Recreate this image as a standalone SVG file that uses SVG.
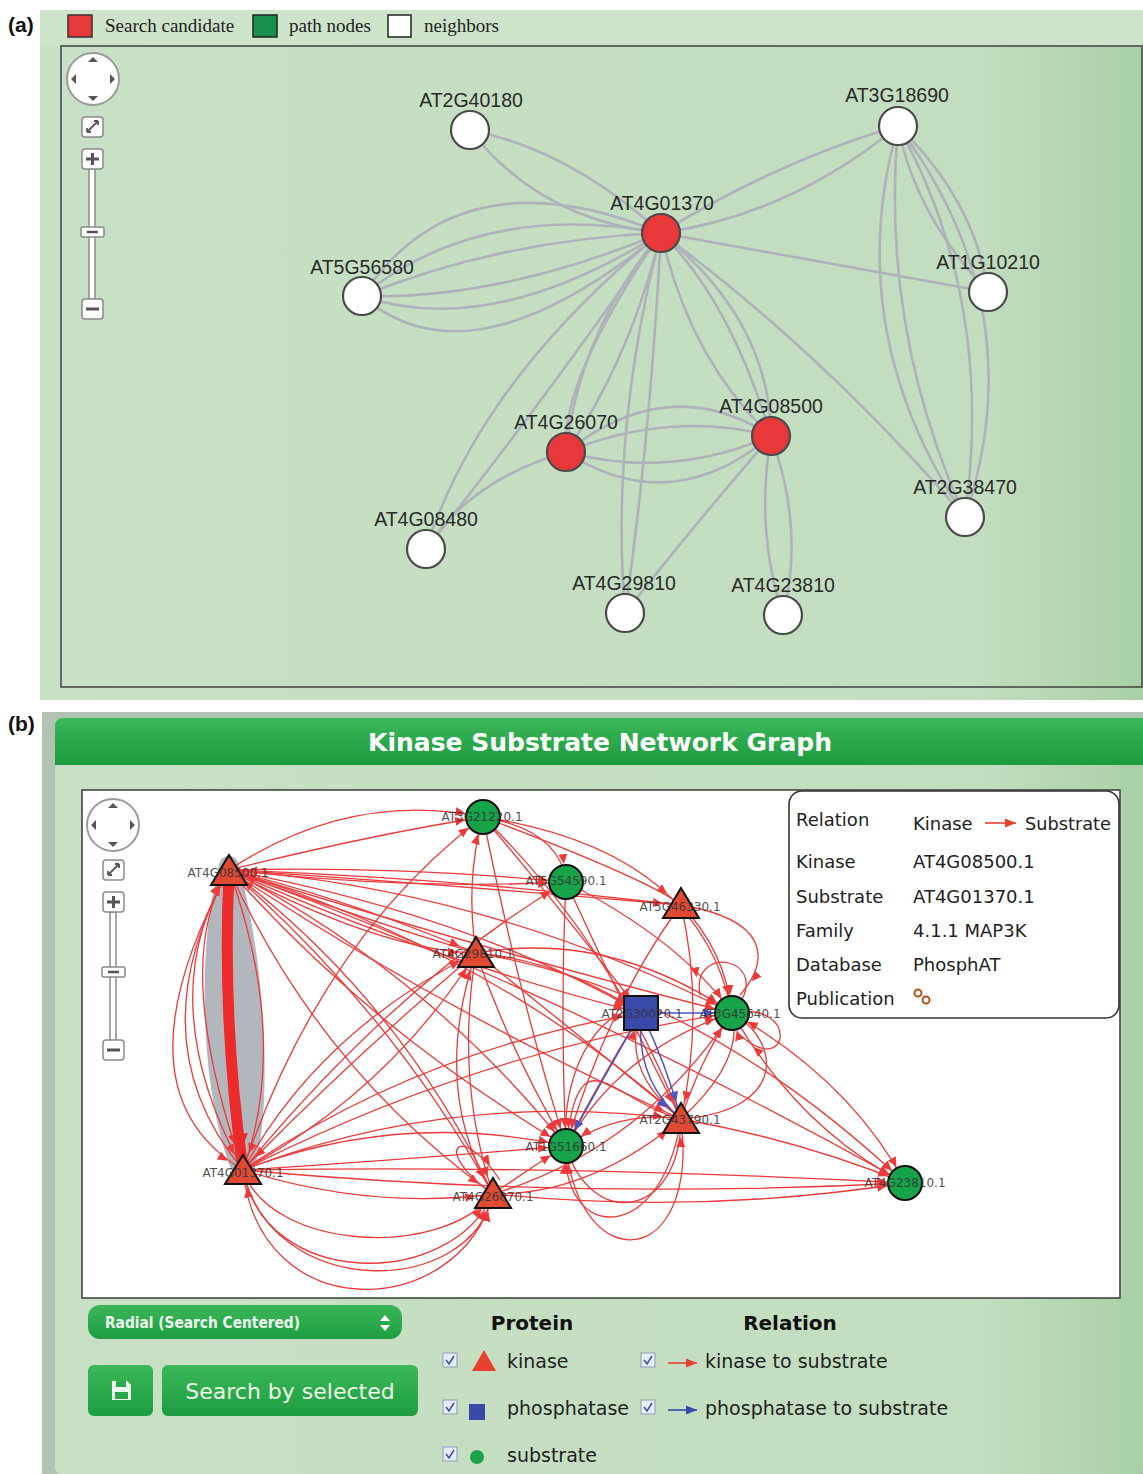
<svg xmlns="http://www.w3.org/2000/svg" width="1143" height="1474" viewBox="0 0 1143 1474">
<style>
.lab{font-family:"Liberation Sans",Arial,sans-serif;font-size:19.5px;fill:#2a2a2a;text-anchor:middle}
.leg{font-family:"Liberation Serif","Times New Roman",serif;font-size:19px;fill:#222}
.ea{fill:none;stroke:#b0b2ba;stroke-width:2.6}
.nw{fill:#fff;stroke:#4a4a4a;stroke-width:2.2}
.nr{fill:#e8383a;stroke:#4a4a4a;stroke-width:2.2}
.er{fill:none;stroke:#ec3a3a;stroke-width:1.3;marker-end:url(#ar)}
.eb{fill:none;stroke:#4a55c0;stroke-width:1.5;marker-end:url(#ab)}
.tri{fill:#e04a33;stroke:#111;stroke-width:2}
.cir{fill:#17a34a;stroke:#111;stroke-width:2}
.bl{font-family:"DejaVu Sans",sans-serif;font-size:12px;fill:#333;text-anchor:middle;opacity:0.85}
.inf{font-family:"DejaVu Sans",sans-serif;font-size:18px;fill:#222}
.bt{font-family:"DejaVu Sans",sans-serif;font-size:19px;fill:#222}
.hd{font-family:"DejaVu Sans",sans-serif;font-size:20px;font-weight:bold;fill:#111;text-anchor:middle}
.btn{fill:#fff;stroke:#8a8a8a;stroke-width:1.5}
.cb{fill:#e6ecf6;stroke:#8d9bb8;stroke-width:1}
.ck{fill:none;stroke:#3a4fa0;stroke-width:1.5}
</style>
<defs>
<linearGradient id="ga" x1="0" y1="0" x2="1" y2="0">
<stop offset="0" stop-color="#c8e0c5"/><stop offset="0.85" stop-color="#c3ddc0"/><stop offset="1" stop-color="#a9d0a6"/>
</linearGradient>
<linearGradient id="gh" x1="0" y1="0" x2="0" y2="1">
<stop offset="0" stop-color="#3cb85a"/><stop offset="1" stop-color="#1c9a3e"/>
</linearGradient>
<linearGradient id="gbt" x1="0" y1="0" x2="0" y2="1">
<stop offset="0" stop-color="#3ab858"/><stop offset="1" stop-color="#1e9c42"/>
</linearGradient>
<marker id="ar" viewBox="0 0 30 12" markerWidth="30" markerHeight="12" refX="28" refY="6" orient="auto" markerUnits="userSpaceOnUse">
<path d="M0,1.5 L10,6 L0,10.5 z" fill="#ec3a3a"/>
</marker>
<marker id="ab" viewBox="0 0 30 12" markerWidth="30" markerHeight="12" refX="28" refY="6" orient="auto" markerUnits="userSpaceOnUse">
<path d="M0,1.5 L10,6 L0,10.5 z" fill="#4a55c0"/>
</marker>
<marker id="abig" viewBox="0 0 40 24" markerWidth="40" markerHeight="24" refX="36" refY="12" orient="auto" markerUnits="userSpaceOnUse">
<path d="M0,2 L18,12 L0,22 z" fill="#ec2a2a"/>
</marker>
<marker id="al" viewBox="0 0 12 10" markerWidth="12" markerHeight="10" refX="11" refY="5" orient="auto" markerUnits="userSpaceOnUse">
<path d="M0,0.5 L11,5 L0,9.5 z" fill="#e8402f"/>
</marker>
<marker id="alb" viewBox="0 0 12 10" markerWidth="12" markerHeight="10" refX="11" refY="5" orient="auto" markerUnits="userSpaceOnUse">
<path d="M0,0.5 L11,5 L0,9.5 z" fill="#3a48a8"/>
</marker>
</defs>

<rect width="1143" height="1474" fill="#fff"/>

<!-- ================= PANEL A ================= -->
<g id="panel-a">
<rect x="40" y="10" width="1103" height="690" fill="url(#ga)"/>
<rect x="40" y="10" width="1103" height="36" fill="#cde3ca"/>
<rect x="61" y="46" width="1081" height="641" fill="none" stroke="#4a4a4a" stroke-width="1.6"/>
<text x="8" y="32" font-family="Liberation Sans,Arial,sans-serif" font-size="21" font-weight="bold" fill="#111">(a)</text>
</g>
<g id="legend-a">
<rect x="68" y="15" width="24" height="22" fill="#e8383a" stroke="#333" stroke-width="1.5"/>
<text class="leg" x="105" y="32">Search candidate</text>
<rect x="253" y="15" width="24" height="22" fill="#17904a" stroke="#222" stroke-width="1.5"/>
<text class="leg" x="289" y="32">path nodes</text>
<rect x="388" y="15" width="23" height="22" fill="#fff" stroke="#222" stroke-width="1.5"/>
<text class="leg" x="424" y="32">neighbors</text>
</g>
<g id="nav-a">
<circle cx="93" cy="79" r="26" fill="#fff" stroke="#9a9a9a" stroke-width="2"/>
<path d="M93,57 l-5,5 h10z M93,101 l-5,-5 h10z M71,79 l5,-5 v10z M115,79 l-5,-5 v10z" fill="#555"/>
<rect class="btn" x="82" y="117" width="21" height="20" rx="3"/>
<path d="M87,132 L98,121 M87,132 l0,-4 M87,132 l4,0 M98,121 l-4,0 M98,121 l0,4" stroke="#555" stroke-width="1.8" fill="none"/>
<rect class="btn" x="89" y="169" width="6" height="130"/>
<rect class="btn" x="82" y="149" width="21" height="20" rx="3"/>
<path d="M86,159 h13 M92.5,153 v12" stroke="#555" stroke-width="3"/>
<rect class="btn" x="81" y="227" width="23" height="10" rx="2"/>
<path d="M87,232 h11" stroke="#555" stroke-width="2.5"/>
<rect class="btn" x="82" y="299" width="21" height="20" rx="3"/>
<path d="M86,309 h13" stroke="#555" stroke-width="3"/>
</g>
<g id="edges-a">
<path class="ea" d="M470,130 Q570,150 661,233"/>
<path class="ea" d="M470,130 Q540,220 661,233"/>
<path class="ea" d="M898,126 Q780,160 661,233"/>
<path class="ea" d="M898,126 Q790,215 661,233"/>
<path class="ea" d="M661,233 L988,292"/>
<path class="ea" d="M898,126 Q915,215 988,292"/>
<path class="ea" d="M898,126 Q975,200 988,292"/>
<path class="ea" d="M898,126 Q840,330 965,517"/>
<path class="ea" d="M898,126 Q880,330 965,517"/>
<path class="ea" d="M898,126 Q995,300 965,517"/>
<path class="ea" d="M898,126 Q1035,310 965,517"/>
<path class="ea" d="M661,233 Q820,350 965,517"/>
<path class="ea" d="M362,296 Q460,150 661,233"/>
<path class="ea" d="M362,296 Q480,200 661,233"/>
<path class="ea" d="M362,296 Q500,240 661,233"/>
<path class="ea" d="M362,296 Q500,300 661,233"/>
<path class="ea" d="M362,296 Q490,340 661,233"/>
<path class="ea" d="M362,296 Q470,390 661,233"/>
<path class="ea" d="M661,233 Q580,330 566,452"/>
<path class="ea" d="M661,233 Q630,360 566,452"/>
<path class="ea" d="M661,233 Q560,380 566,452"/>
<path class="ea" d="M661,233 Q730,300 771,436"/>
<path class="ea" d="M661,233 Q770,320 771,436"/>
<path class="ea" d="M661,233 Q690,360 771,436"/>
<path class="ea" d="M661,233 Q480,380 426,549"/>
<path class="ea" d="M661,233 Q530,420 426,549"/>
<path class="ea" d="M661,233 Q610,430 625,613"/>
<path class="ea" d="M661,233 Q650,440 625,613"/>
<path class="ea" d="M566,452 Q670,370 771,436"/>
<path class="ea" d="M566,452 Q670,410 771,436"/>
<path class="ea" d="M566,452 Q670,480 771,436"/>
<path class="ea" d="M566,452 Q670,520 771,436"/>
<path class="ea" d="M771,436 Q755,530 783,615"/>
<path class="ea" d="M771,436 Q805,530 783,615"/>
<path class="ea" d="M771,436 Q690,530 625,613"/>
<path class="ea" d="M566,452 Q470,480 426,549"/>
</g>
<g id="a-AT2G40180"><circle class="nw" cx="470" cy="130" r="19"/><text class="lab" x="471" y="107">AT2G40180</text></g>
<g id="a-AT3G18690"><circle class="nw" cx="898" cy="126" r="19"/><text class="lab" x="897" y="102">AT3G18690</text></g>
<g id="a-AT4G01370"><circle class="nr" cx="661" cy="233" r="19"/><text class="lab" x="662" y="210">AT4G01370</text></g>
<g id="a-AT5G56580"><circle class="nw" cx="362" cy="296" r="19"/><text class="lab" x="362" y="274">AT5G56580</text></g>
<g id="a-AT1G10210"><circle class="nw" cx="988" cy="292" r="19"/><text class="lab" x="988" y="269">AT1G10210</text></g>
<g id="a-AT4G26070"><circle class="nr" cx="566" cy="452" r="19"/><text class="lab" x="566" y="429">AT4G26070</text></g>
<g id="a-AT4G08500"><circle class="nr" cx="771" cy="436" r="19"/><text class="lab" x="771" y="413">AT4G08500</text></g>
<g id="a-AT2G38470"><circle class="nw" cx="965" cy="517" r="19"/><text class="lab" x="965" y="494">AT2G38470</text></g>
<g id="a-AT4G08480"><circle class="nw" cx="426" cy="549" r="19"/><text class="lab" x="426" y="526">AT4G08480</text></g>
<g id="a-AT4G29810"><circle class="nw" cx="625" cy="613" r="19"/><text class="lab" x="624" y="590">AT4G29810</text></g>
<g id="a-AT4G23810"><circle class="nw" cx="783" cy="615" r="19"/><text class="lab" x="783" y="592">AT4G23810</text></g>

<!-- ================= PANEL B ================= -->
<g id="panel-b">
<text x="8" y="731" font-family="Liberation Sans,Arial,sans-serif" font-size="21" font-weight="bold" fill="#111">(b)</text>
<rect x="42" y="712" width="1101" height="762" fill="#7f9a80" opacity="0.6"/>
<rect x="55" y="718" width="1088" height="756" rx="6" fill="url(#ga)"/>
<path d="M55,765 V726 Q55,718 63,718 H1143 V765 Z" fill="url(#gh)"/>
<text x="600" y="751" text-anchor="middle" font-family="DejaVu Sans,sans-serif" font-size="24" font-weight="bold" fill="#fff" textLength="464" lengthAdjust="spacingAndGlyphs">Kinase Substrate Network Graph</text>
<rect x="82" y="790" width="1038" height="508" fill="#fff" stroke="#444" stroke-width="1.6"/>
</g>
<g id="nav-b">
<circle cx="113" cy="825" r="26" fill="#fff" stroke="#9a9a9a" stroke-width="2"/>
<path d="M113,803 l-5,5 h10z M113,847 l-5,-5 h10z M91,825 l5,-5 v10z M135,825 l-5,-5 v10z" fill="#555"/>
<rect class="btn" x="103" y="860" width="21" height="20" rx="3"/>
<path d="M108,875 L119,864 M108,875 l0,-4 M108,875 l4,0 M119,864 l-4,0 M119,864 l0,4" stroke="#555" stroke-width="1.8" fill="none"/>
<rect class="btn" x="110" y="912" width="6" height="130"/>
<rect class="btn" x="103" y="892" width="21" height="20" rx="3"/>
<path d="M107,902 h13 M113.5,896 v12" stroke="#555" stroke-width="3"/>
<rect class="btn" x="102" y="967" width="23" height="10" rx="2"/>
<path d="M108,972 h11" stroke="#555" stroke-width="2.5"/>
<rect class="btn" x="103" y="1040" width="21" height="20" rx="3"/>
<path d="M107,1050 h13" stroke="#555" stroke-width="3"/>
</g>

<g id="edges-b">
<!-- highlighted edge -->
<path d="M229,866 C205,960 212,1100 243,1172 C262,1110 258,980 229,866 Z" fill="#b2b6bd" stroke="#b2b6bd" stroke-width="20" stroke-linejoin="round"/>
<path d="M229,872 Q222,1020 243,1170" fill="none" stroke="#ec2a2a" stroke-width="11" marker-end="url(#abig)"/>
<!-- from AT4G08500 -->
<path class="er" d="M229,870 Q350,790 483,817"/>
<path class="er" d="M229,870 Q370,835 483,817"/>
<path class="er" d="M229,870 Q400,866 566,882"/>
<path class="er" d="M229,870 Q410,890 566,882"/>
<path class="er" d="M229,870 Q450,885 681,905"/>
<path class="er" d="M229,870 Q350,900 476,953"/>
<path class="er" d="M229,870 Q380,950 476,953"/>
<path class="er" d="M229,870 Q430,960 641,1013"/>
<path class="er" d="M229,870 Q470,915 641,1013"/>
<path class="er" d="M229,870 Q490,890 732,1013"/>
<path class="er" d="M229,870 Q520,960 732,1013"/>
<path class="er" d="M229,870 Q440,1010 681,1119"/>
<path class="er" d="M229,870 Q490,950 681,1119"/>
<path class="er" d="M229,870 Q370,1030 566,1146"/>
<path class="er" d="M229,870 Q430,975 566,1146"/>
<path class="er" d="M229,870 Q560,990 905,1183"/>
<path class="er" d="M229,870 Q320,1070 493,1194"/>
<path class="er" d="M229,870 Q390,1010 493,1194"/>
<path class="er" d="M229,870 Q150,1000 243,1170"/>
<path class="er" d="M229,870 Q110,1090 243,1170"/>
<path class="er" d="M243,1170 Q170,960 229,870"/>
<path class="er" d="M243,1170 Q135,1040 229,870"/>
<path class="er" d="M229,870 Q290,1040 243,1170"/>
<!-- from AT4G01370 -->
<path class="er" d="M243,1170 Q320,1030 476,953"/>
<path class="er" d="M243,1170 Q390,1090 476,953"/>
<path class="er" d="M243,1170 Q320,940 483,817"/>
<path class="er" d="M243,1170 Q400,980 566,882"/>
<path class="er" d="M243,1170 Q370,1210 493,1194"/>
<path class="er" d="M243,1170 C270,1250 440,1260 493,1194"/>
<path class="er" d="M243,1170 C265,1290 450,1290 493,1194"/>
<path class="er" d="M243,1170 C260,1330 460,1320 493,1194"/>
<path class="er" d="M493,1194 C470,1300 270,1300 243,1170"/>
<path class="er" d="M243,1170 Q400,1110 566,1146"/>
<path class="er" d="M243,1170 Q400,1160 566,1146"/>
<path class="er" d="M243,1170 Q450,1090 681,1119"/>
<path class="er" d="M243,1170 Q570,1165 905,1183"/>
<path class="er" d="M243,1170 Q570,1200 905,1183"/>
<path class="er" d="M243,1170 Q420,1050 641,1013"/>
<path class="er" d="M243,1170 Q480,1050 732,1013"/>
<!-- from AT4G29810 -->
<path class="er" d="M476,953 Q465,880 483,817"/>
<path class="er" d="M476,953 Q610,930 732,1013"/>
<path class="er" d="M476,953 Q560,1020 681,1119"/>
<path class="er" d="M476,953 Q510,1050 566,1146"/>
<path class="er" d="M476,953 Q560,960 641,1013"/>
<path class="er" d="M476,953 Q455,1080 493,1194"/>
<path class="er" d="M476,953 Q350,1060 243,1170"/>
<path class="er" d="M476,953 Q700,990 905,1183"/>
<path class="er" d="M476,953 Q350,915 229,870"/>
<!-- from AT4G26070 -->
<path class="er" d="M493,1194 Q530,1168 566,1146"/>
<path class="er" d="M493,1194 Q590,1195 681,1119"/>
<path class="er" d="M493,1194 Q700,1215 905,1183"/>
<path class="er" d="M493,1194 Q640,1150 732,1013"/>
<path class="er" d="M493,1194 Q430,1090 476,953"/>
<path class="er" d="M493,1194 C430,1150 460,1120 500,1180"/>
<path class="er" d="M493,1194 Q400,1000 229,870"/>
<!-- from AT5G46330 -->
<path class="er" d="M681,905 Q725,950 732,1013"/>
<path class="er" d="M681,905 Q705,1010 681,1119"/>
<path class="er" d="M681,905 Q610,1000 566,1146"/>
<path class="er" d="M681,905 Q450,878 229,870"/>
<path class="er" d="M681,905 C770,920 770,960 740,995"/>
<!-- from AT2G43790 -->
<path class="er" d="M681,1119 Q745,1060 732,1013"/>
<path class="er" d="M681,1119 Q700,1060 732,1013"/>
<path class="er" d="M681,1119 Q620,1110 566,1146"/>
<path class="er" d="M681,1119 Q800,1140 905,1183"/>
<path class="er" d="M681,1119 Q620,1070 641,1013"/>
<path class="er" d="M681,1119 C660,1250 560,1240 566,1146"/>
<path class="er" d="M681,1119 C700,1270 580,1280 566,1146"/>
<path class="er" d="M566,1146 C590,1230 680,1220 681,1119"/>
<path class="er" d="M681,1119 C610,1100 580,1030 566,1146"/>
<path class="er" d="M681,1119 C790,1110 780,1040 732,1013"/>
<!-- from AT3G21220 -->
<path class="er" d="M483,817 Q700,850 732,1013"/>
<path class="er" d="M483,817 Q610,940 681,1119"/>
<path class="er" d="M483,817 Q570,920 641,1013"/>
<path class="er" d="M483,817 Q520,1000 566,1146"/>
<path class="er" d="M483,817 Q650,880 681,905"/>
<path class="er" d="M483,817 Q560,830 566,882"/>
<!-- from AT5G54590 -->
<path class="er" d="M566,882 Q680,940 732,1013"/>
<path class="er" d="M566,882 Q620,1000 681,1119"/>
<path class="er" d="M566,882 Q560,1010 566,1146"/>
<!-- around AT3G45640 -->
<path class="er" d="M732,1013 C780,960 690,940 700,995"/>
<path class="er" d="M732,1013 C800,1000 790,1080 740,1035"/>
<path class="er" d="M732,1013 Q850,1080 905,1183"/>
<path class="er" d="M732,1013 Q800,1130 905,1183"/>
<path class="er" d="M641,1013 Q600,1080 566,1146"/>
<path class="er" d="M566,1146 C560,1060 610,1000 641,1013"/>
<path class="er" d="M566,1146 Q620,1050 732,1013"/>
<!-- blue phosphatase edges -->
<path class="eb" d="M641,1013 L732,1013"/>
<path class="eb" d="M641,1013 Q605,1075 566,1146"/>
<path class="eb" d="M641,1013 Q635,1080 681,1119"/>
<path class="eb" d="M641,1013 Q665,1060 681,1119"/>
</g>

<g id="b-AT4G08500"><path class="tri" d="M229,855 L247,885 L211,885 Z"/><text class="bl" x="228" y="877">AT4G08500.1</text></g>
<g id="b-AT4G01370"><path class="tri" d="M243,1155 L261,1184 L225,1184 Z"/><text class="bl" x="243" y="1177">AT4G01370.1</text></g>
<g id="b-AT4G29810"><path class="tri" d="M476,937 L494,967 L458,967 Z"/><text class="bl" x="473" y="958">AT4G29810.1</text></g>
<g id="b-AT4G26070"><path class="tri" d="M493,1178 L511,1208 L475,1208 Z"/><text class="bl" x="493" y="1201">AT4G26070.1</text></g>
<g id="b-AT5G46330"><path class="tri" d="M681,888 L699,918 L663,918 Z"/><text class="bl" x="680" y="911">AT5G46330.1</text></g>
<g id="b-AT2G43790"><path class="tri" d="M681,1103 L699,1133 L663,1133 Z"/><text class="bl" x="680" y="1124">AT2G43790.1</text></g>
<g id="b-AT3G21220"><circle class="cir" cx="483" cy="817" r="17"/><text class="bl" x="482" y="821">AT3G21220.1</text></g>
<g id="b-AT5G54590"><circle class="cir" cx="566" cy="882" r="17"/><text class="bl" x="566" y="885">AT5G54590.1</text></g>
<g id="b-AT2G30020"><rect x="624" y="996" width="34" height="34" fill="#3a4aa8" stroke="#111" stroke-width="2"/><text class="bl" x="642" y="1018">AT2G30020.1</text></g>
<g id="b-AT3G45640"><circle class="cir" cx="732" cy="1013" r="17"/><text class="bl" x="740" y="1018">AT3G45640.1</text></g>
<g id="b-AT1G51660"><circle class="cir" cx="566" cy="1146" r="17"/><text class="bl" x="566" y="1151">AT1G51660.1</text></g>
<g id="b-AT4G23810"><circle class="cir" cx="905" cy="1183" r="17"/><text class="bl" x="905" y="1187">AT4G23810.1</text></g>

<g id="info-box">
<rect x="789" y="791" width="330" height="227" rx="13" fill="#fff" stroke="#333" stroke-width="1.6"/>
<text class="inf" x="796" y="826">Relation</text>
<text class="inf" x="913" y="830">Kinase</text>
<path d="M985,823 H1016" stroke="#e8402f" stroke-width="1.6" marker-end="url(#al)"/>
<text class="inf" x="1025" y="830" textLength="86" lengthAdjust="spacingAndGlyphs">Substrate</text>
<text class="inf" x="796" y="868">Kinase</text><text class="inf" x="913" y="868">AT4G08500.1</text>
<text class="inf" x="796" y="903">Substrate</text><text class="inf" x="913" y="903">AT4G01370.1</text>
<text class="inf" x="796" y="937">Family</text><text class="inf" x="913" y="937">4.1.1  MAP3K</text>
<text class="inf" x="796" y="971">Database</text><text class="inf" x="913" y="971">PhosphAT</text>
<text class="inf" x="796" y="1005">Publication</text>
<g fill="none" stroke="#b5541c" stroke-width="2"><circle cx="918" cy="993" r="3.5"/><circle cx="926" cy="1000" r="3.5"/></g>
</g>

<g id="layout-select">
<rect x="88" y="1305" width="314" height="34" rx="12" fill="url(#gbt)"/>
<text x="105" y="1328" font-family="DejaVu Sans,sans-serif" font-size="15" font-weight="bold" fill="#eef8ee" textLength="195" lengthAdjust="spacingAndGlyphs">Radial (Search Centered)</text>
<path d="M385,1321 l-5,0 l5,-6 l5,6z M385,1325 l-5,0 l5,6 l5,-6z" fill="#fff"/>
</g>
<g id="save-button">
<rect x="88" y="1365" width="65" height="51" rx="6" fill="url(#gbt)"/>
<path d="M112,1381 h15 l4,4 v15 h-19 z" fill="#eef8ee"/>
<rect x="116" y="1381" width="10" height="6" fill="#2aa84a"/>
<rect x="115" y="1392" width="13" height="7" fill="#2aa84a"/>
</g>
<g id="search-button">
<rect x="162" y="1365" width="256" height="51" rx="6" fill="url(#gbt)"/>
<text x="290" y="1399" text-anchor="middle" font-family="DejaVu Sans,sans-serif" font-size="22" fill="#eef8e6">Search by selected</text>
</g>
<g id="legend-b">
<text class="hd" x="532" y="1330">Protein</text>
<text class="hd" x="790" y="1330">Relation</text>
<rect class="cb" x="443" y="1353" width="14" height="14"/><path class="ck" d="M446,1360 l3,4 l5,-8"/>
<path d="M484,1350 L496,1371 L472,1371 Z" fill="#e8402f"/>
<text class="bt" x="507" y="1368">kinase</text>
<rect class="cb" x="443" y="1400" width="14" height="14"/><path class="ck" d="M446,1407 l3,4 l5,-8"/>
<rect x="469" y="1404" width="16" height="16" fill="#3a48a8"/>
<text class="bt" x="507" y="1415">phosphatase</text>
<rect class="cb" x="443" y="1447" width="14" height="14"/><path class="ck" d="M446,1454 l3,4 l5,-8"/>
<circle cx="477" cy="1457" r="7" fill="#1aa34a"/>
<text class="bt" x="507" y="1462">substrate</text>
<rect class="cb" x="641" y="1353" width="14" height="14"/><path class="ck" d="M644,1360 l3,4 l5,-8"/>
<path d="M668,1363 H697" stroke="#e8402f" stroke-width="1.6" marker-end="url(#al)"/>
<text class="bt" x="705" y="1368">kinase to substrate</text>
<rect class="cb" x="641" y="1400" width="14" height="14"/><path class="ck" d="M644,1407 l3,4 l5,-8"/>
<path d="M668,1410 H697" stroke="#3a48a8" stroke-width="1.6" marker-end="url(#alb)"/>
<text class="bt" x="705" y="1415">phosphatase to substrate</text>
</g>
</svg>
